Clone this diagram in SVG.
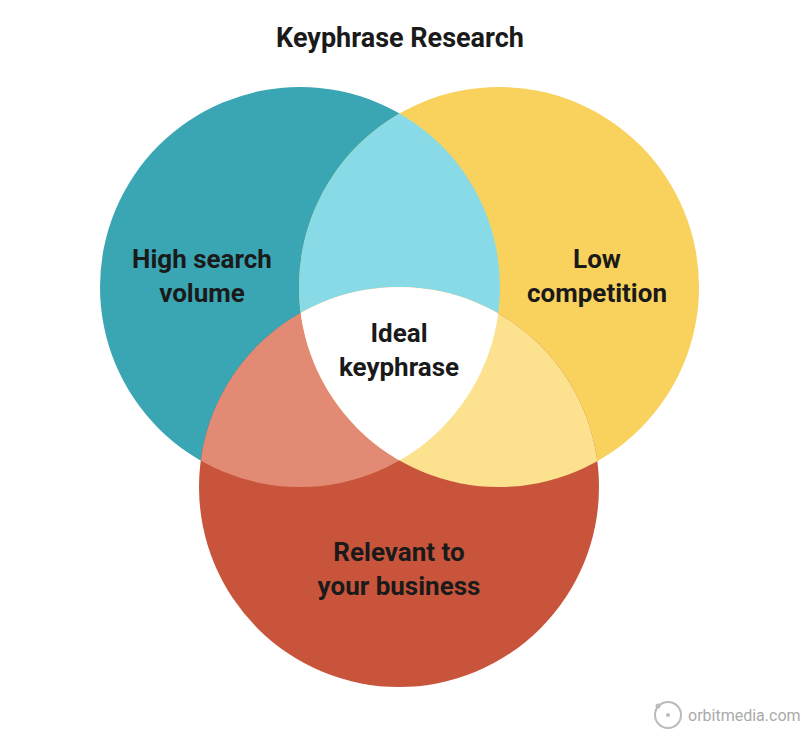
<svg xmlns="http://www.w3.org/2000/svg" width="800" height="741" viewBox="0 0 800 741">
<style>
.l{font-family:"Roboto","Liberation Sans",sans-serif;font-weight:bold;font-size:26px;fill:#1a1a1a;text-anchor:middle}
</style>
<defs>
<clipPath id="cA"><circle cx="300" cy="287" r="200"/></clipPath>
<clipPath id="cB"><circle cx="499" cy="287" r="200"/></clipPath>
<clipPath id="cC"><circle cx="399" cy="487" r="200"/></clipPath>
</defs>
<rect width="800" height="741" fill="#fff"/>
<text x="400" y="47" class="l" style="font-size:27px">Keyphrase Research</text>
<g id="volume"><circle cx="300" cy="287" r="200" fill="#3AA6B4"/></g>
<g id="competition"><circle cx="499" cy="287" r="200" fill="#F8D25D"/></g>
<g id="relevant"><circle cx="399" cy="487" r="200" fill="#C8553B"/></g>
<g id="overlaps">
<circle cx="499" cy="287" r="200" fill="#88DBE6" clip-path="url(#cA)"/>
<circle cx="399" cy="487" r="200" fill="#E38A75" clip-path="url(#cA)"/>
<circle cx="399" cy="487" r="200" fill="#FCE28E" clip-path="url(#cB)"/>
<g clip-path="url(#cA)"><circle cx="399" cy="487" r="200" fill="#fff" clip-path="url(#cB)"/></g>
</g>
<text class="l"><tspan x="202" y="268">High search</tspan><tspan x="202" y="302">volume</tspan></text>
<text class="l"><tspan x="597" y="268">Low</tspan><tspan x="597" y="302">competition</tspan></text>
<text class="l"><tspan x="399" y="342">Ideal</tspan><tspan x="399" y="376">keyphrase</tspan></text>
<text class="l"><tspan x="399" y="561">Relevant to</tspan><tspan x="399" y="595">your business</tspan></text>
<g id="logo" fill="none" stroke="#bbb" stroke-width="2">
<circle cx="668" cy="715" r="13"/>
<circle cx="668" cy="715" r="2" fill="#bbb" stroke="none"/>
<circle cx="658" cy="706" r="2.5" fill="#bbb" stroke="none"/>
<text x="688" y="721" font-family="Roboto,'Liberation Sans',sans-serif" font-size="16" fill="#aaa" stroke="none">orbitmedia.com</text>
</g>
</svg>
